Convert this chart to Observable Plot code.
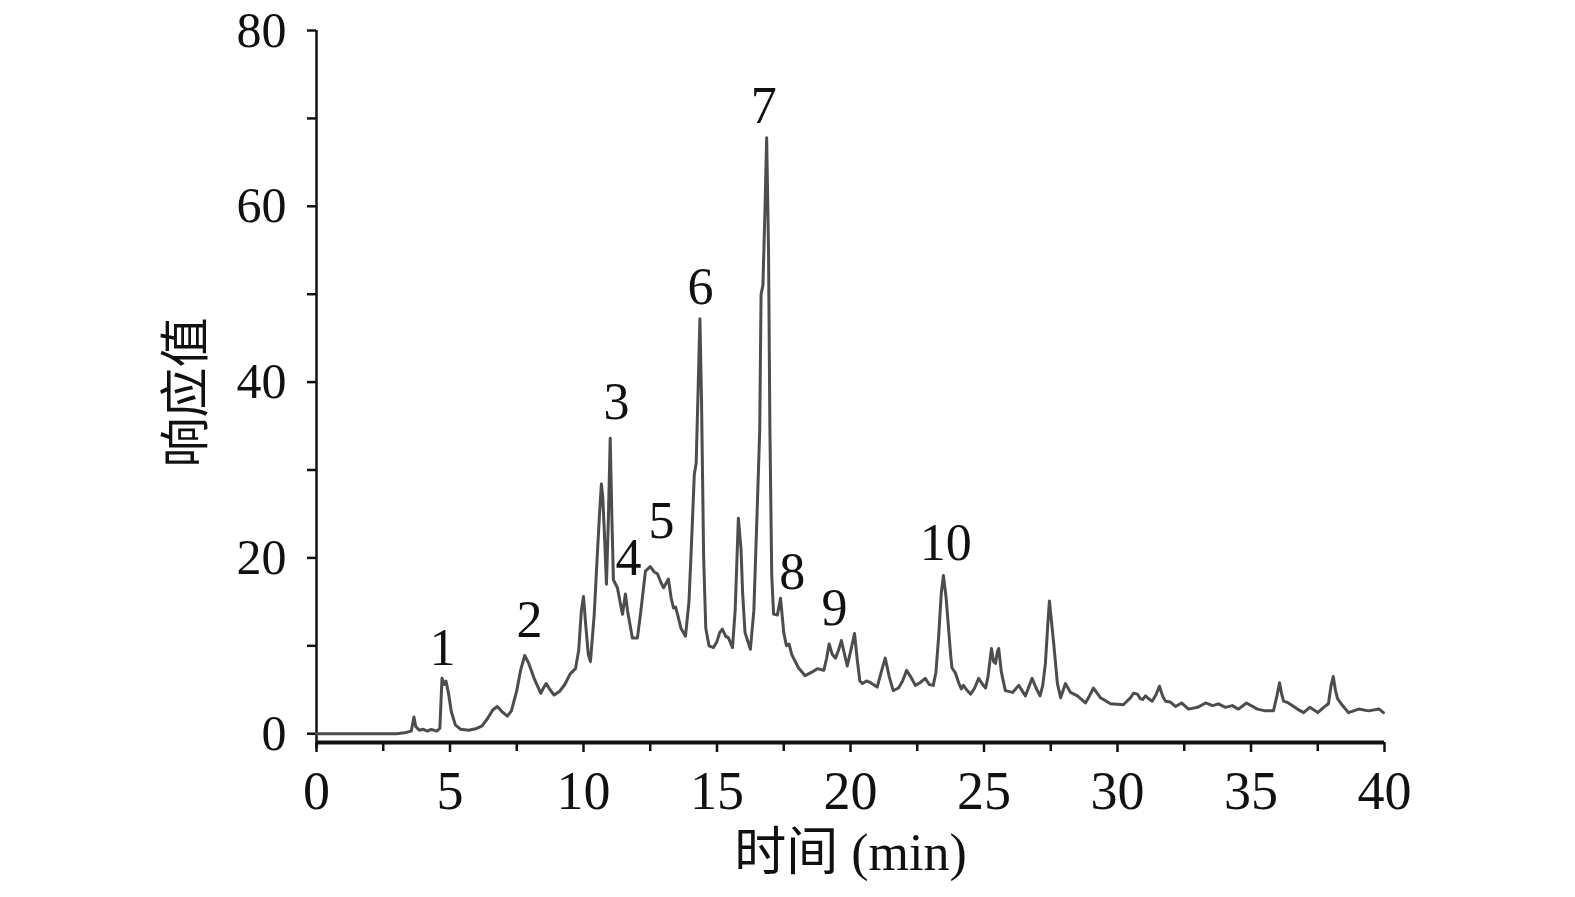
<!DOCTYPE html>
<html>
<head>
<meta charset="utf-8">
<script src="https://cdn.jsdelivr.net/npm/d3@7"></script>
<script src="https://cdn.jsdelivr.net/npm/@observablehq/plot@0.6"></script>
<style>
  html, body { margin: 0; padding: 0; background: #fff; }
  #chart { width: 1575px; height: 897px; }
</style>
</head>
<body>
<div id="chart"></div>
<script>
// Retention time (min)
const time = [
  0, 3.0, 3.3, 3.55, 3.65, 3.72, 3.85, 4.0, 4.15, 4.3, 4.5, 4.62, 4.7, 4.78, 4.85, 4.95,
  5.05, 5.2, 5.4, 5.7, 6.0, 6.2, 6.4, 6.6, 6.77, 6.95, 7.15, 7.3, 7.5, 7.65, 7.8, 7.95,
  8.15, 8.4, 8.5, 8.6, 8.75, 8.9, 9.1, 9.3, 9.5, 9.7, 9.82, 9.92, 10.0, 10.08, 10.18, 10.26,
  10.4, 10.52, 10.6, 10.67, 10.72, 10.78, 10.86, 10.93, 11.0, 11.06, 11.12, 11.27, 11.4, 11.46,
  11.57, 11.65, 11.83, 12.02, 12.15, 12.32, 12.5, 12.65, 12.77, 12.9, 13.0, 13.18, 13.28, 13.37,
  13.45, 13.52, 13.65, 13.82, 13.95, 14.05, 14.15, 14.22, 14.3, 14.36, 14.42, 14.5, 14.58, 14.7,
  14.87, 15.0, 15.1, 15.2, 15.32, 15.43, 15.58, 15.68, 15.8, 15.9, 15.96, 16.05, 16.25, 16.38,
  16.5, 16.6, 16.65, 16.72, 16.8, 16.86, 16.93, 16.98, 17.05, 17.12, 17.26, 17.38, 17.5, 17.6,
  17.7, 17.8, 18.05, 18.3, 18.55, 18.76, 19.0, 19.1, 19.2, 19.32, 19.44, 19.55, 19.66, 19.78,
  19.88, 20.05, 20.15, 20.25, 20.35, 20.45, 20.6, 20.75, 21.0, 21.15, 21.3, 21.45, 21.6, 21.8,
  21.95, 22.1, 22.25, 22.43, 22.6, 22.8, 22.95, 23.1, 23.2, 23.3, 23.4, 23.48, 23.58, 23.67,
  23.75, 23.8, 23.93, 24.05, 24.15, 24.23, 24.35, 24.5, 24.65, 24.8, 24.95, 25.06, 25.15, 25.28,
  25.36, 25.43, 25.5, 25.55, 25.65, 25.8, 26.07, 26.3, 26.55, 26.7, 26.8, 26.95, 27.1, 27.2,
  27.3, 27.38, 27.45, 27.52, 27.6, 27.75, 27.87, 28.05, 28.24, 28.5, 28.8, 28.95, 29.1, 29.36,
  29.74, 30.22, 30.49, 30.6, 30.75, 30.85, 30.94, 31.05, 31.12, 31.3, 31.45, 31.57, 31.7, 31.8,
  31.98, 32.17, 32.4, 32.66, 33.0, 33.3, 33.56, 33.78, 34.04, 34.3, 34.53, 34.83, 35.24, 35.54,
  35.84, 35.97, 36.07, 36.15, 36.22, 36.4, 36.74, 36.97, 37.2, 37.5, 37.72, 37.9, 38.0, 38.08,
  38.16, 38.24, 38.43, 38.65, 39.03, 39.4, 39.8, 39.96
];
// Detector response
const response = [
  0, 0, 0.1, 0.3, 1.9, 0.8, 0.4, 0.5, 0.3, 0.5, 0.3, 0.6, 6.3, 5.6, 6.0, 4.5,
  2.5, 1.0, 0.5, 0.4, 0.6, 0.9, 1.7, 2.7, 3.1, 2.5, 2.0, 2.6, 4.9, 7.3, 8.9, 8.0,
  6.3, 4.6, 5.2, 5.7, 5.0, 4.4, 4.8, 5.6, 6.8, 7.4, 9.5, 14.0, 15.6, 12.5, 9.0, 8.2,
  13.5, 20.5, 25, 28.4, 27, 23, 17.0, 24.2, 33.6, 25, 17.5, 16.6, 14.5, 13.6,
  15.9, 14, 10.9, 10.9, 14, 18.5, 19.0, 18.4, 18.2, 17.2, 16.6, 17.6, 15.5, 14.3,
  14.4, 13.6, 12.0, 11.1, 15, 22, 29.5, 30.8, 40, 47.2, 38, 20, 12, 10,
  9.8, 10.5, 11.5, 11.9, 11.1, 10.9, 9.8, 14, 24.5, 21, 16, 11.5, 9.6, 14,
  25, 34.5, 50, 51, 60, 67.8, 55, 35, 18, 13.6, 13.5, 15.4, 11.5, 10.0,
  10.2, 9.0, 7.5, 6.6, 7.0, 7.4, 7.2, 8.5, 10.2, 9.0, 8.6, 9.5, 10.6, 9.0,
  7.7, 10.0, 11.4, 8.5, 6.0, 5.7, 6.0, 5.8, 5.3, 7.0, 8.6, 6.5, 4.9, 5.2,
  6.0, 7.2, 6.5, 5.5, 5.8, 6.3, 5.6, 5.5, 7.0, 11, 16, 18.0, 15.5, 12.1,
  9, 7.5, 6.9, 5.8, 5.1, 5.5, 5.0, 4.5, 5.2, 6.3, 5.6, 5.2, 6.5, 9.7,
  8.2, 8.0, 9.3, 9.7, 7.0, 4.9, 4.7, 5.5, 4.3, 5.5, 6.3, 5.2, 4.3, 5.5,
  8.0, 12, 15.1, 13, 10.6, 5.7, 4.1, 5.7, 4.7, 4.3, 3.5, 4.3, 5.2, 4.1,
  3.4, 3.3, 4.1, 4.6, 4.5, 4.0, 3.9, 4.3, 4.1, 3.7, 4.5, 5.4, 4.2, 3.7,
  3.6, 3.1, 3.5, 2.8, 3.0, 3.5, 3.2, 3.4, 3.0, 3.2, 2.8, 3.5, 2.8, 2.6,
  2.6, 4.3, 5.8, 4.5, 3.7, 3.5, 2.8, 2.4, 3.0, 2.4, 3.0, 3.4, 5.5, 6.5,
  5.0, 4.0, 3.2, 2.4, 2.8, 2.6, 2.8, 2.4
];
// Peak annotations (label, time, response at label centre)
const peakIds = ["1", "2", "3", "4", "5", "6", "7", "8", "9", "10"];
const peakTimes = [4.72, 7.98, 11.24, 11.69, 12.92, 14.38, 16.75, 17.82, 19.4, 23.57];
const peakLabelY = [9.7, 12.9, 37.7, 20.0, 24.2, 50.8, 71.4, 18.4, 14.3, 21.6];
// Axis ticks
const xMajor = [0, 5, 10, 15, 20, 25, 30, 35, 40];
const xMinor = [2.5, 7.5, 12.5, 17.5, 22.5, 27.5, 32.5, 37.5];
const yMajor = [0, 20, 40, 60, 80];
const yMinor = [10, 30, 50, 70];
const xTitle = "时间 (min)";
const yTitle = "响应值";

const trace = time.map((t, i) => ({t, r: response[i]}));
const peaks = peakIds.map((id, i) => ({id, t: peakTimes[i], y: peakLabelY[i]}));

const serif = "'Liberation Serif', 'Times New Roman', 'Noto Sans CJK SC', serif";

const chart = Plot.plot({
  width: 1575,
  height: 897,
  marginLeft: 316,
  marginRight: 191,
  marginTop: 30,
  marginBottom: 155,
  style: {fontFamily: serif, background: "#fff", color: "#111"},
  x: {domain: [0, 40]},
  y: {domain: [-1, 80]},
  marks: [
    // minor ticks
    Plot.axisX({ticks: xMinor, tickSize: 9, tickFormat: () => "", strokeWidth: 2.5, label: null}),
    Plot.axisY({ticks: yMinor, tickSize: 9, tickFormat: () => "", strokeWidth: 2.5, label: null}),
    // major ticks
    Plot.axisX({ticks: xMajor, tickSize: 10, tickPadding: 18, tickFormat: d => String(d),
      fontSize: 54, strokeWidth: 2.5, label: null, fill: "#111"}),
    Plot.axisY({ticks: yMajor, tickSize: 9, tickPadding: 21, tickFormat: d => String(d),
      fontSize: 50, strokeWidth: 2.5, label: null, fill: "#111"}),
    // axis lines
    Plot.ruleX([0], {y1: -1.7, y2: 80, stroke: "#111", strokeWidth: 2.5}),
    Plot.ruleY([-1], {x1: 0, x2: 40, stroke: "#111", strokeWidth: 4}),
    // chromatogram
    Plot.line(trace, {x: "t", y: "r", stroke: "#4d4d4d", strokeWidth: 3, curve: "linear"}),
    // peak labels
    Plot.text(peaks, {x: "t", y: "y", text: "id", fontSize: 52, fill: "#111", fontFamily: serif}),
    // axis titles
    Plot.text([xTitle], {frameAnchor: "bottom", lineAnchor: "middle", textAnchor: "middle",
      dy: 111, fontSize: 52, fill: "#111", fontFamily: serif}),
    Plot.text([yTitle], {frameAnchor: "left", lineAnchor: "middle", textAnchor: "middle",
      dx: -130, dy: 6, rotate: -90, fontSize: 50, fill: "#111",
      fontFamily: "'Noto Sans CJK SC', sans-serif"})
  ]
});
document.getElementById("chart").appendChild(chart);
</script>
</body>
</html>
